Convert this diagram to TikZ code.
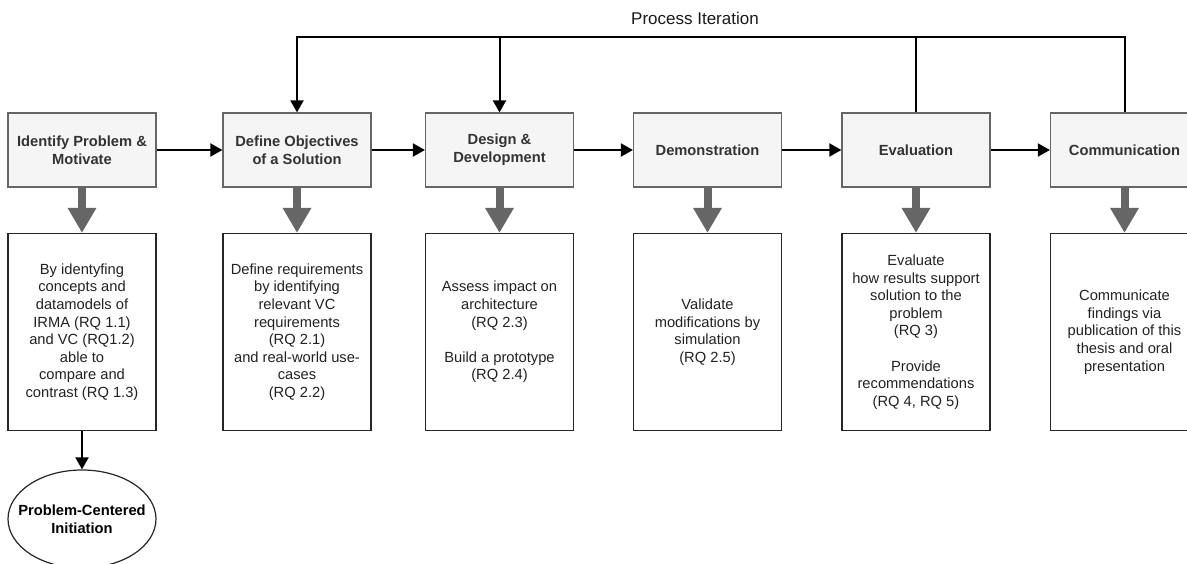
\documentclass[tikz,border=0pt]{standalone}
\usepackage{fontspec}
\setmainfont{Liberation Sans}
\usetikzlibrary{arrows.meta,shapes.geometric}
\definecolor{stepfill}{HTML}{F5F5F5}
\definecolor{stepline}{HTML}{666666}
\definecolor{steptext}{HTML}{333333}
\definecolor{bodytext}{HTML}{222222}
\tikzset{
  phase/.style={draw=stepline, fill=stepfill, line width=1.2pt, minimum width=148pt,
    minimum height=74pt, inner sep=0pt, align=center, text=steptext,
    font=\fontsize{14.7}{17.6}\selectfont\bfseries},
  detail/.style={draw=black!85, fill=white, line width=1.2pt, minimum width=148pt,
    minimum height=197pt, inner sep=0pt, align=center, text=bodytext,
    font=\fontsize{14.7}{17.6}\selectfont},
  outcome/.style={ellipse, draw=black!85, fill=white, line width=1.2pt, minimum width=148pt,
    minimum height=98pt, inner sep=0pt},
  outcometext/.style={align=center, text=black, inner sep=0pt,
    font=\fontsize{14.7}{17.6}\selectfont\bfseries},
  flow/.style={draw=black, line width=2pt, -{Triangle[length=12pt,width=13pt]}},
  plainline/.style={draw=black, line width=2pt},
  bigdown/.style={draw=stepline, line width=8pt, -{Triangle[length=25pt,width=27pt]}},
}
\begin{document}
\begin{tikzpicture}[x=1pt,y=-1pt]
\useasboundingbox (0,0) rectangle (1187,564);
\clip (0,0) rectangle (1187,564);

% process phases
\node[phase] (idp)  at (82,150)    {Identify Problem \&\\Motivate};
\node[phase] (def)  at (297,150)   {Define Objectives\\of a Solution};
\node[phase] (dev)  at (499.5,150) {Design \&\\Development};
\node[phase] (demo) at (707.5,150) {Demonstration};
\node[phase] (eval) at (916,150)   {Evaluation};
\node[phase] (comm) at (1124.5,150){Communication};

% activities of each phase
\node[detail] (idpd) at (82,332) {By identyfing\\concepts and\\datamodels of\\IRMA (RQ 1.1)\\and VC (RQ1.2)\\able to\\compare and\\contrast (RQ 1.3)};
\node[detail] (defd) at (297,332) {Define requirements\\by identifying\\relevant VC\\requirements\\(RQ 2.1)\\and real-world use-\\cases\\(RQ 2.2)};
\node[detail] (devd) at (499.5,332) {Assess impact on\\architecture\\(RQ 2.3)\\[17.6pt]Build a prototype\\(RQ 2.4)};
\node[detail] (demod) at (707.5,332) {Validate\\modifications by\\simulation\\(RQ 2.5)};
\node[detail] (evald) at (916,332) {Evaluate\\how results support\\solution to the\\problem\\(RQ 3)\\[17.6pt]Provide\\recommendations\\(RQ 4, RQ 5)};
\node[detail] (commd) at (1124.5,332) {Communicate\\findings via\\publication of this\\thesis and oral\\presentation};

% entry point
\node[outcome] (init) at (82,519) {};
\node[outcometext] (initlabel) at (init.center) {Problem-Centered\\Initiation};

% sequence of phases
\draw[flow] (idp.east) -- (def.west);
\draw[flow] (def.east) -- (dev.west);
\draw[flow] (dev.east) -- (demo.west);
\draw[flow] (demo.east) -- (eval.west);
\draw[flow] (eval.east) -- (comm.west);

% phase to activity
\foreach \p in {idp,def,dev,demo,eval,comm}
  \draw[bigdown] (\p.south) -- (\p d.north);

\draw[flow] (idpd.south) -- (init.north);

% iteration loop
\coordinate (loop) at (600,37);
\draw[plainline] (eval.north) -- (eval.north |- loop);
\draw[flow] (comm.north) |- (def.north |- loop) -- (def.north);
\draw[flow] (dev.north |- loop) -- (dev.north);
\node[font=\fontsize{17}{20}\selectfont, text=black!90] (iterlabel) at (695,18) {Process Iteration};
\end{tikzpicture}
\end{document}
